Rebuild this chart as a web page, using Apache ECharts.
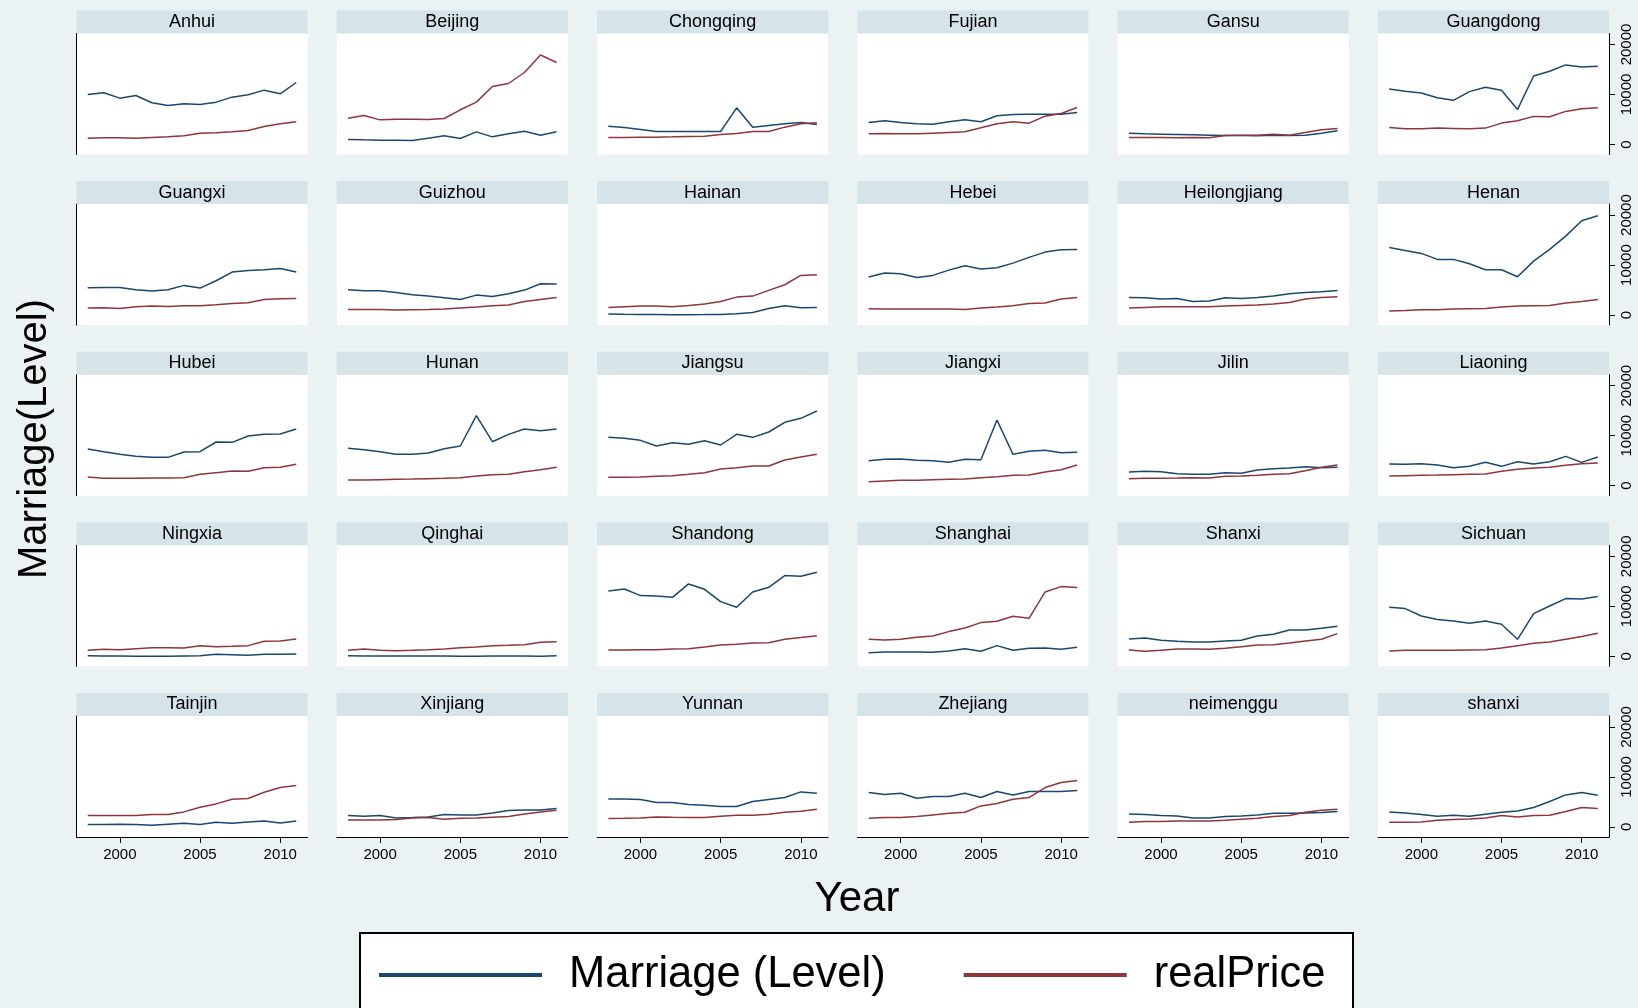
<!DOCTYPE html>
<html>
<head>
<meta charset="utf-8">
<script src="https://cdn.jsdelivr.net/npm/echarts@6/dist/echarts.min.js"></script>
<style>
html,body{margin:0;padding:0;background:#EAF2F3;}
#chart{width:1638px;height:1008px;}
</style>
</head>
<body>
<div id="chart"></div>
<script>
const years = [1998,1999,2000,2001,2002,2003,2004,2005,2006,2007,2008,2009,2010,2011];
const provinces = ["Anhui","Beijing","Chongqing","Fujian","Gansu","Guangdong",
  "Guangxi","Guizhou","Hainan","Hebei","Heilongjiang","Henan",
  "Hubei","Hunan","Jiangsu","Jiangxi","Jilin","Liaoning",
  "Ningxia","Qinghai","Shandong","Shanghai","Shanxi","Sichuan",
  "Tainjin","Xinjiang","Yunnan","Zhejiang","neimenggu","shanxi"];
const xTicks = [2000,2005,2010];
const yTicks = [0,10000,20000];
const seriesNames = ["Marriage (Level)","realPrice"];

const marriage = [
  [10000,10340,9270,9800,8340,7800,8140,8000,8470,9470,9940,10870,10140,12400],
  [1000,930,870,870,800,1270,1730,1200,2530,1530,2130,2670,1870,2530],
  [3670,3400,3000,2600,2600,2600,2600,2600,7340,3470,3800,4130,4400,4000],
  [4400,4740,4400,4130,4070,4540,4940,4540,5740,6000,6070,6070,6070,6400],
  [2270,2130,2070,2000,1930,1870,1800,1800,1730,1870,1800,1870,2270,2730],
  [11100,10640,10300,9360,8830,10570,11440,10840,7020,13710,14650,15920,15520,15650],
  [5470,5540,5540,5070,4800,5070,5940,5400,6870,8600,8940,9070,9340,8600],
  [5070,4870,4870,4540,4070,3800,3470,3130,4000,3740,4270,5000,6270,6200],
  [200,150,120,100,80,80,100,130,250,500,1300,1870,1470,1500],
  [7600,8400,8270,7540,7940,9000,9870,9200,9470,10400,11540,12600,13070,13140],
  [3540,3470,3200,3330,2730,2800,3470,3330,3540,3800,4270,4540,4670,4940],
  [13540,12940,12340,11140,11140,10270,9070,9070,7670,10800,13140,15800,18870,19870],
  [7340,6800,6270,5870,5670,5670,6740,6800,8740,8670,9940,10270,10340,11340],
  [7470,7200,6800,6270,6270,6540,7400,7940,14000,8800,10270,11340,11000,11340],
  [9670,9470,9070,7940,8600,8270,9000,8140,10270,9670,10740,12670,13470,14940],
  [5000,5270,5340,5070,5000,4670,5270,5200,13140,6270,6870,7070,6600,6670],
  [2730,2870,2800,2400,2270,2270,2600,2470,3130,3400,3540,3800,3600,3670],
  [4340,4270,4400,4130,3600,3870,4670,3870,4800,4340,4800,5870,4670,5740],
  [130,70,70,20,20,20,70,130,400,330,200,400,400,470],
  [100,60,60,60,60,60,40,20,20,40,40,40,20,130],
  [13070,13470,12140,12070,11800,14470,13400,10940,9800,12870,13800,16140,16000,16800],
  [730,870,870,870,800,1070,1530,1000,2130,1200,1600,1670,1400,1800],
  [3470,3670,3200,3000,2870,2870,3070,3200,4070,4400,5270,5270,5600,6000],
  [9800,9540,8070,7340,7070,6600,7070,6400,3400,8540,10070,11540,11470,11940],
  [470,470,530,470,330,530,730,470,930,730,1000,1200,800,1200],
  [2270,2130,2270,1800,1870,2000,2470,2400,2400,2800,3270,3400,3400,3670],
  [5600,5600,5470,4870,4870,4470,4340,4070,4070,5070,5470,5870,7000,6740],
  [6870,6470,6740,5740,6070,6070,6740,5870,7070,6400,7070,7070,7070,7270],
  [2600,2470,2270,2200,1800,1800,2070,2200,2400,2730,2730,2800,2870,3070],
  [3000,2800,2470,2130,2330,2130,2530,2930,3200,3870,5070,6400,6870,6340]
];

const realPrice = [
  [1270,1330,1330,1270,1400,1530,1730,2270,2330,2530,2800,3600,4130,4530],
  [5270,5800,4930,5070,5070,5000,5200,6940,8470,11600,12200,14400,17900,16400],
  [1400,1400,1470,1470,1530,1600,1670,2000,2200,2600,2600,3470,4130,4330],
  [2130,2200,2130,2130,2270,2400,2530,3330,4130,4530,4270,5670,6200,7400],
  [1400,1400,1400,1330,1400,1330,1800,1870,1870,2070,1870,2400,2930,3200],
  [3410,3140,3140,3280,3210,3140,3280,4280,4750,5620,5550,6620,7160,7360],
  [1400,1470,1330,1670,1800,1730,1870,1870,2070,2330,2470,3130,3270,3330],
  [1130,1130,1130,1000,1070,1130,1200,1400,1600,1870,2000,2730,3130,3540],
  [1530,1670,1800,1800,1670,1930,2200,2730,3600,3800,4940,6070,7940,8070],
  [1270,1200,1200,1200,1200,1200,1130,1400,1600,1870,2330,2400,3200,3540],
  [1400,1530,1670,1670,1670,1670,1800,1930,2000,2200,2530,3200,3540,3670],
  [800,930,1070,1070,1200,1270,1330,1600,1800,1870,1930,2400,2730,3130],
  [1730,1470,1470,1470,1530,1530,1600,2270,2600,2930,2870,3600,3670,4270],
  [1130,1130,1200,1270,1330,1400,1470,1600,1930,2200,2270,2800,3200,3670],
  [1670,1670,1730,1870,2000,2270,2600,3330,3600,3940,3940,5140,5740,6270],
  [800,930,1070,1070,1200,1270,1330,1600,1800,2070,2130,2730,3200,4130],
  [1400,1470,1470,1530,1600,1530,1870,1930,2070,2270,2400,3000,3670,4130],
  [1930,2000,2070,2130,2200,2270,2330,2870,3270,3540,3670,4070,4400,4540],
  [1200,1400,1330,1530,1730,1730,1670,2130,1930,2000,2130,3000,3070,3470],
  [1200,1470,1200,1130,1200,1330,1470,1730,1870,2130,2200,2330,2800,2930],
  [1270,1270,1330,1330,1470,1530,1870,2270,2400,2670,2730,3400,3740,4130],
  [3400,3270,3400,3800,4070,4940,5670,6740,7000,8000,7600,12870,13940,13740],
  [1270,1000,1200,1470,1470,1400,1600,1930,2270,2330,2670,3070,3400,4540],
  [1070,1200,1200,1200,1200,1270,1330,1670,2130,2600,2870,3400,3940,4600],
  [2270,2270,2270,2270,2470,2470,3000,3940,4600,5540,5670,6940,7870,8270],
  [1400,1400,1400,1470,1800,1870,1530,1730,1800,1930,2070,2600,3000,3340],
  [1670,1730,1800,2000,1930,1870,1870,2130,2330,2330,2530,2930,3130,3540],
  [1730,1870,1870,2070,2400,2730,2930,4200,4670,5540,5870,7870,8870,9270],
  [930,1070,1070,1200,1200,1200,1330,1530,1730,2070,2270,2930,3340,3540],
  [930,930,1000,1330,1470,1600,1800,2270,2000,2270,2330,3070,3870,3670]
];

const FONT = "'Liberation Sans', Arial, Helvetica, sans-serif";
const BLUE = '#1A476F';
const RED = '#90353B';
const STRIP = '#D6E3E8';

const colLeft = [76.5, 336.8, 597.1, 857.4, 1117.7, 1378];
const panelW = 231;
const rowTop = [10.5, 181.1, 351.7, 522.3, 692.9];
const stripH = 23;
const plotH = 121;

const grids = [], xAxes = [], yAxes = [], series = [], graphics = [];

provinces.forEach((name, i) => {
  const r = Math.floor(i / 6), c = i % 6;
  const left = colLeft[c], top = rowTop[r];
  graphics.push({
    type: 'rect', shape: {x: left, y: top, width: panelW, height: stripH},
    style: {fill: STRIP}, silent: true
  });
  graphics.push({
    type: 'text', x: left + panelW / 2, y: top + stripH / 2,
    style: {text: name, fontFamily: FONT, fontSize: 18, fill: '#000',
      textAlign: 'center', textVerticalAlign: 'middle'}
  });
  grids.push({
    left: left, top: top + stripH, width: panelW, height: plotH,
    show: true, backgroundColor: '#fff', borderWidth: 0
  });
  const bottom = r === 4;
  xAxes.push({
    type: 'value', gridIndex: i, min: 1997.3, max: 2011.7,
    splitLine: {show: false},
    axisLine: {show: bottom, onZero: false, lineStyle: {color: '#000', width: 1}},
    axisTick: {show: bottom, length: 6, customValues: xTicks, lineStyle: {color: '#000'}},
    axisLabel: {show: bottom, customValues: xTicks, margin: 10,
      fontFamily: FONT, fontSize: 15, color: '#000', formatter: v => String(v)}
  });
  const rightCol = c === 5, leftCol = c === 0;
  yAxes.push({
    type: 'value', gridIndex: i, min: -2000, max: 22200,
    position: rightCol ? 'right' : 'left',
    splitLine: {show: false},
    axisLine: {show: rightCol || leftCol, onZero: false, lineStyle: {color: '#000', width: 1}},
    axisTick: {show: rightCol, length: 6, customValues: yTicks, lineStyle: {color: '#000'}},
    axisLabel: {show: rightCol, customValues: yTicks, rotate: 90, margin: 10,
      fontFamily: FONT, fontSize: 15, color: '#000', formatter: v => String(v)}
  });
  series.push({
    type: 'line', name: seriesNames[0], xAxisIndex: i, yAxisIndex: i,
    data: years.map((y, k) => [y, marriage[i][k]]),
    symbol: 'none', lineStyle: {color: BLUE, width: 1.5}, itemStyle: {color: BLUE},
    animation: false
  });
  series.push({
    type: 'line', name: seriesNames[1], xAxisIndex: i, yAxisIndex: i,
    data: years.map((y, k) => [y, realPrice[i][k]]),
    symbol: 'none', lineStyle: {color: RED, width: 1.5}, itemStyle: {color: RED},
    animation: false
  });
});

graphics.push({
  type: 'rect', z: -1, shape: {x: 360, y: 933, width: 993, height: 120},
  style: {fill: '#fff', stroke: '#000', lineWidth: 2}, silent: true
});
graphics.push({
  type: 'text', x: 34.5, y: 439, rotation: Math.PI / 2,
  style: {text: 'Marriage(Level)', fontFamily: FONT, fontSize: 40, fill: '#000',
    textAlign: 'center', textVerticalAlign: 'middle'}
});
graphics.push({
  type: 'text', x: 857, y: 899,
  style: {text: 'Year', fontFamily: FONT, fontSize: 42, fill: '#000',
    textAlign: 'center', textVerticalAlign: 'middle'}
});

const chart = echarts.init(document.getElementById('chart'), null, {renderer: 'canvas'});
chart.setOption({
  backgroundColor: '#EAF2F3',
  animation: false,
  grid: grids,
  xAxis: xAxes,
  yAxis: yAxes,
  series: series,
  graphic: graphics,
  legend: {
    data: seriesNames, left: 379, top: 953, padding: 0,
    itemWidth: 163, itemHeight: 4, itemGap: 78,
    icon: 'rect',
    textStyle: {fontFamily: FONT, fontSize: 43.5, color: '#000', padding: [0, 0, 0, 22]}
  }
});
</script>
</body>
</html>
